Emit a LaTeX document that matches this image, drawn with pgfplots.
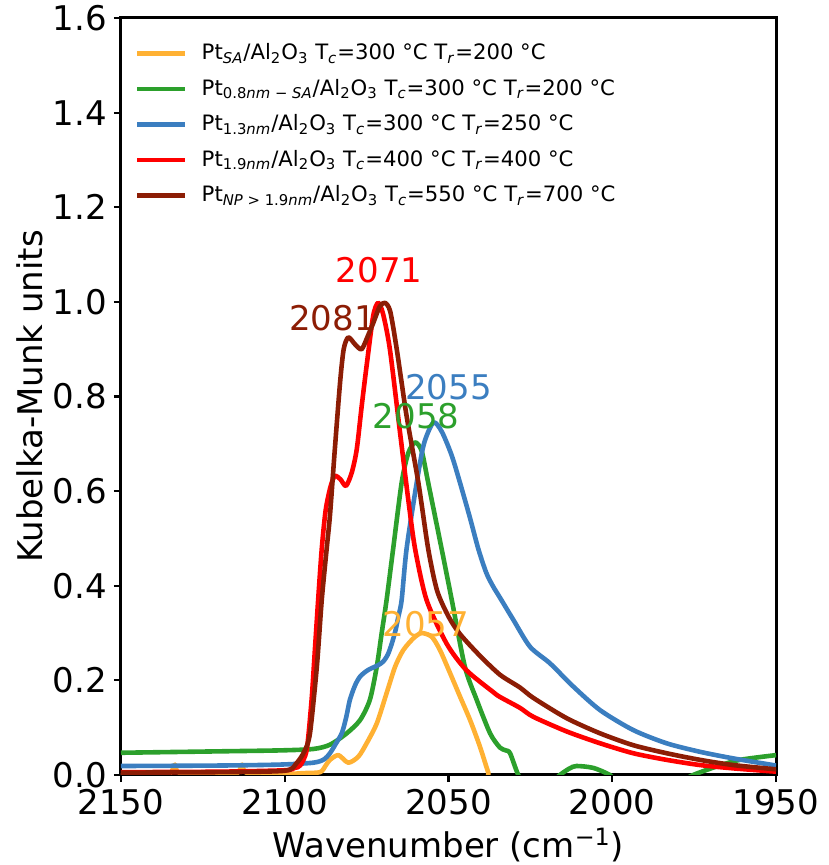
\documentclass[border=0pt]{standalone}
\usepackage{fontspec}
\setmainfont{DejaVu Sans}
\usepackage{pgfplots}
\pgfplotsset{compat=1.18}
\definecolor{cOr}{HTML}{FFB133}
\definecolor{cGr}{HTML}{2CA02C}
\definecolor{cBl}{HTML}{3B7EC0}
\definecolor{cRd}{HTML}{FF0000}
\definecolor{cBr}{HTML}{8C1D05}
\newcommand{\bigfont}{\fontsize{17}{20}\selectfont}
\begin{document}
\begin{tikzpicture}
\begin{axis}[
  at={(0,0)}, anchor=south west,
  scale only axis, width=327.5pt, height=378.5pt,
  x dir=reverse, xmin=1950, xmax=2150, ymin=0, ymax=1.6,
  xtick={1950,2000,2050,2100,2150},
  ytick={0,0.2,0.4,0.6,0.8,1.0,1.2,1.4,1.6},
  /pgf/number format/assume math mode=true,
  xticklabel style={/pgf/number format/.cd, set thousands separator={}},
  yticklabel style={/pgf/number format/.cd, fixed, fixed zerofill, precision=1},
  tick label style={font=\bigfont},
  label style={font=\bigfont},
  xtick pos=lower, ytick pos=left, tick align=outside,
  major tick length=3.5pt,
  major tick style={line width=1.1pt, black},
  axis line style={line width=1.5pt},
  xlabel={Wavenumber (cm\textsuperscript{−1})},
  ylabel={Kubelka-Munk units},
  xlabel style={at={(axis description cs:0.5,-0.0925)}, anchor=center},
  ylabel style={at={(axis description cs:-0.139,0.5)}, anchor=center},
  legend cell align=left,
  legend style={at={(axis description cs:0.012,0.977)}, anchor=north west,
    draw=none, fill=none, font=\fontsize{10.6}{12.7}\selectfont, row sep=4.2pt},
  legend image code/.code={\draw[#1, line width=2.2pt] (0pt,0pt) -- (24pt,0pt); \path (29pt,0pt);},
  every axis plot/.append style={line width=2.3pt, line join=round, smooth, tension=0.45},
]
\addplot[cOr] coordinates {
(2150,0.003) (2140,0.002) (2135,0.004) (2133.5,0.022) (2132,0.004) (2120,0.003)
(2114.5,0.004) (2113,0.022) (2111.5,0.004) (2100,0.002) (2094.3,0.004) (2089.2,0.006)
(2087.5,0.02) (2086.2,0.032) (2083.6,0.042) (2080.6,0.026) (2077.5,0.039) (2075,0.067)
(2071.9,0.109) (2068.9,0.173) (2066.3,0.229) (2063.8,0.264) (2060.7,0.289) (2058.2,0.300)
(2055.1,0.292) (2052.6,0.264) (2049.5,0.215) (2046.5,0.166) (2043.4,0.116) (2040.4,0.060)
(2037.8,0.004) (2035,-0.05) (1950,-0.05)
};
\addlegendentry{Pt\textsubscript{\textit{SA}}/Al\textsubscript{2}O\textsubscript{3} T\textsubscript{\textit{c}}=300 °C T\textsubscript{\textit{r}}=200 °C}
\addplot[cGr] coordinates {
(2150,0.047) (2120,0.050) (2101.5,0.052) (2091.3,0.055) (2086.2,0.064) (2081.1,0.088)
(2077,0.116) (2074,0.159) (2071.9,0.229) (2070.4,0.300) (2068.9,0.370) (2066.9,0.478)
(2064.3,0.618) (2062.3,0.680) (2060.2,0.703) (2058.2,0.685) (2056.2,0.618) (2052.1,0.478)
(2049,0.370) (2045,0.229) (2041.4,0.159) (2037.3,0.088) (2034.3,0.058) (2032.5,0.052)
(2031.2,0.046) (2028.7,0.0) (2026,-0.03) (2021,-0.03) (2016,0.0) (2013,0.014)
(2010.9,0.019) (2005.8,0.015) (2000.7,0.0) (1997,-0.02) (1985,-0.03) (1975.3,0.0)
(1968.1,0.018) (1961,0.032) (1950,0.042)
};
\addlegendentry{Pt\textsubscript{0.8\textit{nm} − \textit{SA}}/Al\textsubscript{2}O\textsubscript{3} T\textsubscript{\textit{c}}=300 °C T\textsubscript{\textit{r}}=200 °C}
\addplot[cBl] coordinates {
(2150,0.019) (2120,0.020) (2101.5,0.022) (2091.3,0.026) (2088,0.033) (2086.2,0.046)
(2084.5,0.065) (2082.6,0.088) (2081.3,0.120) (2080.1,0.159) (2078.5,0.190) (2077,0.208)
(2075,0.220) (2073.4,0.226) (2071.5,0.232) (2069.9,0.240) (2068.5,0.255) (2067.3,0.278)
(2066.2,0.305) (2065.3,0.335) (2064.3,0.370) (2062.8,0.478) (2059.7,0.618) (2057.5,0.700)
(2054.6,0.745) (2052,0.725) (2049,0.675) (2046.5,0.618) (2043.5,0.545) (2040.9,0.478)
(2038.5,0.428) (2036.5,0.400) (2034.3,0.375) (2030.2,0.328) (2025.1,0.271) (2019,0.236)
(2011.9,0.187) (2003.7,0.137) (1993.6,0.095) (1983.4,0.067) (1973.2,0.049) (1963,0.035)
(1950,0.020)
};
\addlegendentry{Pt\textsubscript{1.3\textit{nm}}/Al\textsubscript{2}O\textsubscript{3} T\textsubscript{\textit{c}}=300 °C T\textsubscript{\textit{r}}=250 °C}
\addplot[cRd] coordinates {
(2150,0.006) (2120,0.007) (2100,0.010) (2097,0.015) (2095.3,0.020) (2093.3,0.053)
(2091.8,0.159) (2090.8,0.264) (2089.8,0.370) (2088.7,0.478) (2087.5,0.560) (2086,0.610)
(2084.7,0.632) (2083,0.625) (2081.3,0.611) (2079.5,0.640) (2078,0.689) (2076.5,0.780)
(2075,0.865) (2073,0.970) (2071.5,0.998) (2070,0.975) (2067.9,0.900) (2064.8,0.724)
(2062.3,0.583) (2060.2,0.478) (2056.7,0.370) (2050.6,0.278) (2044.6,0.222) (2036.3,0.175)
(2034.3,0.165) (2028.2,0.142) (2024.1,0.123) (2013.9,0.092) (2003.7,0.067) (1993.6,0.046)
(1983.4,0.032) (1973.2,0.021) (1963,0.014) (1950,0.007)
};
\addlegendentry{Pt\textsubscript{1.9\textit{nm}}/Al\textsubscript{2}O\textsubscript{3} T\textsubscript{\textit{c}}=400 °C T\textsubscript{\textit{r}}=400 °C}
\addplot[cBr] coordinates {
(2150,0.005) (2120,0.006) (2100,0.009) (2096.4,0.025) (2094,0.050) (2092.3,0.088)
(2090.2,0.229) (2088.7,0.370) (2087.2,0.478) (2086.2,0.548) (2084.7,0.689) (2083.1,0.830)
(2082,0.900) (2080.6,0.925) (2078.5,0.910) (2076.5,0.900) (2074.5,0.930) (2073,0.955)
(2071,0.990) (2069.4,0.998) (2067.8,0.980) (2065.8,0.900) (2062.8,0.759) (2059.2,0.618)
(2056.2,0.478) (2053.5,0.390) (2050,0.335) (2046.5,0.298) (2040.4,0.252) (2034.3,0.212) (2028.2,0.185)
(2024.1,0.163) (2013.9,0.120) (2003.7,0.088) (1993.6,0.063) (1983.4,0.046) (1973.2,0.032)
(1963,0.021) (1950,0.012)
};
\addlegendentry{Pt\textsubscript{\textit{NP} > 1.9\textit{nm}}/Al\textsubscript{2}O\textsubscript{3} T\textsubscript{\textit{c}}=550 °C T\textsubscript{\textit{r}}=700 °C}
\node[text=cRd, font=\bigfont] at (axis cs:2071.2,1.067) {2071};
\node[text=cBr, font=\bigfont] at (axis cs:2085.4,0.966) {2081};
\node[text=cBl, font=\bigfont] at (axis cs:2050,0.820) {2055};
\node[text=cGr, font=\bigfont] at (axis cs:2059.9,0.759) {2058};
\node[text=cOr, font=\bigfont] at (axis cs:2056.9,0.319) {2057};
\end{axis}
\pgfresetboundingbox
\useasboundingbox (-60.5pt,-45pt) rectangle (353.5pt,387.5pt);
\end{tikzpicture}
\end{document}
